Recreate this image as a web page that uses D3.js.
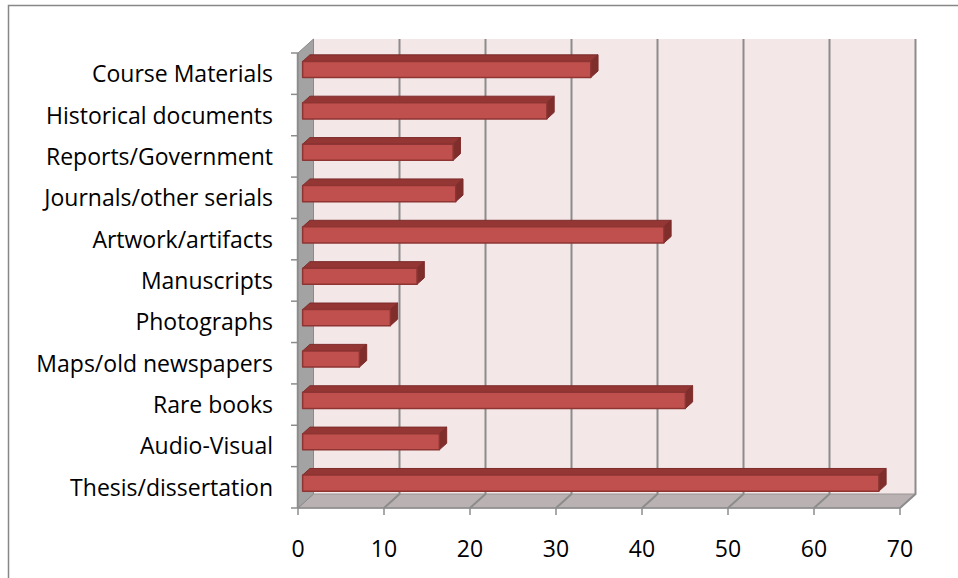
<!DOCTYPE html>
<html>
<head>
<meta charset="utf-8">
<script src="https://cdn.jsdelivr.net/npm/d3@7"></script>
<style>
  html, body { margin: 0; padding: 0; background: #ffffff; }
  svg { display: block; }
  text { font-family: "Open Sans", Lato, sans-serif; fill: #000; }
</style>
</head>
<body>
<svg id="chart" width="958" height="578"></svg>
<script>
// Categories, top to bottom
const categories = [
  "Course Materials",
  "Historical documents",
  "Reports/Government",
  "Journals/other serials",
  "Artwork/artifacts",
  "Manuscripts",
  "Photographs",
  "Maps/old newspapers",
  "Rare books",
  "Audio-Visual",
  "Thesis/dissertation"
];
const values = [33.5, 28.4, 17.5, 17.8, 42, 13.3, 10.2, 6.6, 44.5, 15.9, 67];
const xTicks = [0, 10, 20, 30, 40, 50, 60, 70];

const svg = d3.select("#chart");

// Frame around the chart object
svg.append("path")
  .attr("d", "M8.5,578 L8.5,5.5 L958,5.5")
  .attr("fill", "none").attr("stroke", "#878787").attr("stroke-width", 1.5);

// Front plane scales; the back plane is the same shifted by (DX, DY)
const x = d3.scaleLinear().domain([0, 70]).range([298, 900]);
const y = d3.scaleBand().domain(categories).range([53, 508]).paddingInner(0.61).paddingOuter(0.305);
const yEdges = d3.scaleBand().domain(categories).range([53, 508]);
const DX = 15.5, DY = -14;
const P = (px, py, d) => [px + d * DX, py + d * DY];
const poly = pts => "M" + pts.map(p => p.join(",")).join("L") + "Z";

const x0 = x(0), x1 = x(70), yT = 53, yB = 508;

// Back wall
svg.append("path")
  .attr("d", poly([P(x0, yT, 1), P(x1, yT, 1), P(x1, yB, 1), P(x0, yB, 1)]))
  .attr("fill", "#f3e7e8");

// Floor
svg.append("path")
  .attr("d", poly([P(x0, yB, 0), P(x1, yB, 0), P(x1, yB, 1), P(x0, yB, 1)]))
  .attr("fill", "#bab2b2").attr("stroke", "#9a9494").attr("stroke-width", 1);

// Side wall
svg.append("path")
  .attr("d", poly([P(x0, yT, 0), P(x0, yT, 1), P(x0, yB, 1), P(x0, yB, 0)]))
  .attr("fill", "#a3a3a3").attr("stroke", "#8a8a8a").attr("stroke-width", 1);

// Gridlines on the back wall and across the floor
const grid = svg.append("g").attr("stroke", "#8c8c8c").attr("stroke-width", 2).attr("fill", "none");
xTicks.filter(t => t > 0).forEach(t => {
  const b0 = P(x(t), yT, 1), b1 = P(x(t), yB, 1), f = P(x(t), yB, 0);
  grid.append("path").attr("d", `M${b0}L${b1}L${f}`);
});

// Bottom axis: line, ticks, labels
const axis = svg.append("g").attr("stroke", "#8c8c8c").attr("stroke-width", 1.5);
axis.append("line").attr("x1", x0).attr("x2", x1).attr("y1", yB).attr("y2", yB);
xTicks.forEach(t => {
  axis.append("line").attr("x1", x(t)).attr("x2", x(t)).attr("y1", yB).attr("y2", yB + 7);
});
svg.append("g").selectAll("text").data(xTicks).join("text")
  .attr("x", d => x(d)).attr("y", 557)
  .attr("text-anchor", "middle").attr("font-size", 23)
  .text(d => d);

// Category axis ticks on the front edge of the side wall
const cAxis = svg.append("g").attr("stroke", "#8c8c8c").attr("stroke-width", 1.5);
cAxis.append("line").attr("x1", x0 - 0.5).attr("x2", x0 - 0.5).attr("y1", yT).attr("y2", yB);
const edges = categories.map(c => yEdges(c)).concat([yB]);
edges.forEach(e => {
  cAxis.append("line").attr("x1", x0 - 7).attr("x2", x0).attr("y1", e).attr("y2", e);
});
svg.append("g").selectAll("text").data(categories).join("text")
  .attr("x", 273).attr("y", c => yEdges(c) + yEdges.bandwidth() / 2 + 8.5)
  .attr("text-anchor", "end").attr("font-size", 23)
  .text(c => c);

// 3-D bars
const DF = 0.3, DB = 0.77;
const bars = svg.append("g");
categories.forEach((c, i) => {
  const v = values[i];
  const top = y(c), bot = y(c) + y.bandwidth();
  const xa = x(0), xb = x(v);
  const g = bars.append("g").attr("stroke-linejoin", "round");
  // top face
  g.append("path")
    .attr("d", poly([P(xa, top, DF), P(xb, top, DF), P(xb, top, DB), P(xa, top, DB)]))
    .attr("fill", "#933634").attr("stroke", "#7d2c2a").attr("stroke-width", 1);
  // end face
  g.append("path")
    .attr("d", poly([P(xb, top, DF), P(xb, top, DB), P(xb, bot, DB), P(xb, bot, DF)]))
    .attr("fill", "#7f2e2c").attr("stroke", "#7d2c2a").attr("stroke-width", 1);
  // front face
  g.append("path")
    .attr("d", poly([P(xa, top, DF), P(xb, top, DF), P(xb, bot, DF), P(xa, bot, DF)]))
    .attr("fill", "#c0504d").attr("stroke", "#8e3533").attr("stroke-width", 1.5);
});
</script>
</body>
</html>
